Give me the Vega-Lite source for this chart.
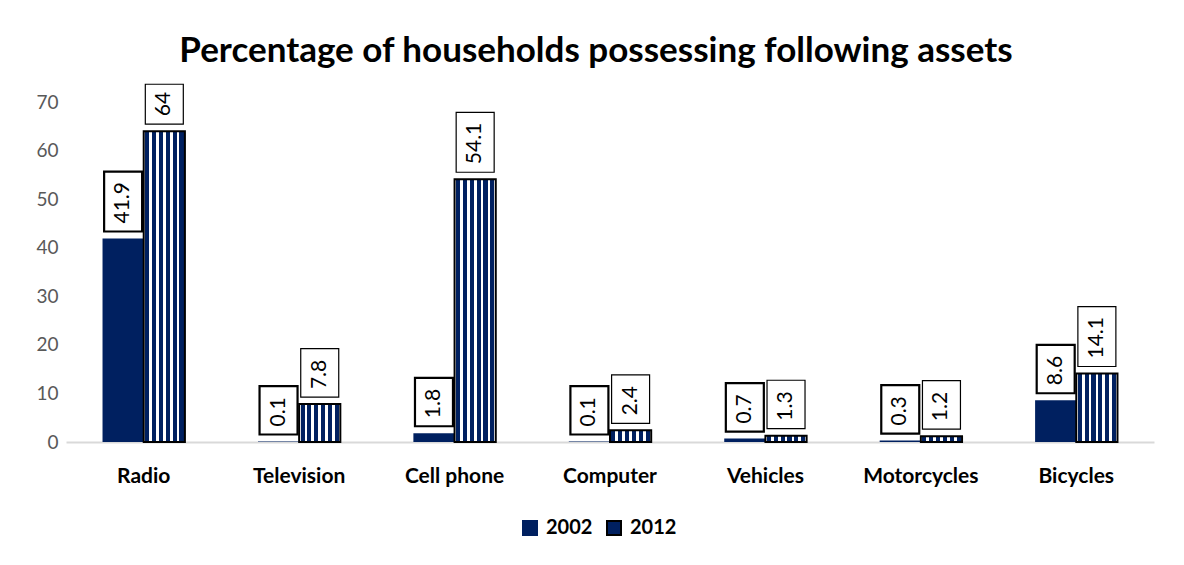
{
  "$schema": "https://vega.github.io/schema/vega-lite/v6.json",
  "width": 1088,
  "height": 340,
  "padding": {"left": 35, "top": 33, "right": 30, "bottom": 10},
  "background": "white",
  "title": {
    "text": "Percentage of households possessing following assets",
    "font": "Lato",
    "fontSize": 35,
    "fontWeight": "bold",
    "color": "#000000",
    "anchor": "middle",
    "dx": -14,
    "offset": 13
  },
  "config": {
    "view": {"stroke": null},
    "font": "Lato"
  },
  "data": {
    "values": [
      {"asset": "Radio", "year": "2002", "value": 41.9},
      {"asset": "Radio", "year": "2012", "value": 64},
      {"asset": "Television", "year": "2002", "value": 0.1},
      {"asset": "Television", "year": "2012", "value": 7.8},
      {"asset": "Cell phone", "year": "2002", "value": 1.8},
      {"asset": "Cell phone", "year": "2012", "value": 54.1},
      {"asset": "Computer", "year": "2002", "value": 0.1},
      {"asset": "Computer", "year": "2012", "value": 2.4},
      {"asset": "Vehicles", "year": "2002", "value": 0.7},
      {"asset": "Vehicles", "year": "2012", "value": 1.3},
      {"asset": "Motorcycles", "year": "2002", "value": 0.3},
      {"asset": "Motorcycles", "year": "2012", "value": 1.2},
      {"asset": "Bicycles", "year": "2002", "value": 8.6},
      {"asset": "Bicycles", "year": "2012", "value": 14.1}
    ]
  },
  "encoding": {
    "x": {
      "field": "asset",
      "type": "nominal",
      "sort": null,
      "scale": {"paddingInner": 0.47, "paddingOuter": 0.235},
      "axis": {
        "title": null,
        "labelAngle": 0,
        "labelFont": "Lato",
        "labelFontSize": 21,
        "labelFontWeight": "bold",
        "labelColor": "#000000",
        "labelPadding": 23,
        "ticks": false,
        "domainColor": "#d9d9d9",
        "domainWidth": 2,
        "grid": false
      }
    },
    "xOffset": {"field": "year", "type": "nominal", "scale": {"paddingInner": 0}},
    "y": {
      "field": "value",
      "type": "quantitative",
      "scale": {"domain": [0, 70], "nice": false},
      "axis": {
        "title": null,
        "values": [0, 10, 20, 30, 40, 50, 60, 70],
        "labelFont": "Lato",
        "labelFontSize": 19,
        "labelColor": "#595959",
        "labelPadding": 8,
        "ticks": false,
        "domain": false,
        "grid": false
      }
    }
  },
  "layer": [
    {
      "mark": {"type": "bar"},
      "encoding": {
        "fill": {
          "field": "year",
          "type": "nominal",
          "scale": {"domain": ["2002", "2012"], "range": ["#002060", "#002060"]},
          "legend": {
            "title": null,
            "orient": "none",
            "legendX": 454,
            "legendY": 416,
            "direction": "horizontal",
            "symbolType": "square",
            "symbolSize": 196,
            "labelFont": "Lato",
            "labelFontSize": 20,
            "labelFontWeight": "bold",
            "labelColor": "#000000",
            "columnPadding": 10,
            "labelOffset": 6,
            "encode": {
              "symbols": {
                "update": {
                  "fill": {"signal": "datum.value === '2012' ? {gradient: 'linear', x1: 0, y1: 0, x2: 1, y2: 0, stops: [{offset: 0, color: '#ffffff'}, {offset: 0.3, color: '#ffffff'}, {offset: 0.3, color: '#002060'}, {offset: 0.7, color: '#002060'}, {offset: 0.7, color: '#ffffff'}, {offset: 1, color: '#ffffff'}]} : '#002060'"},
                  "stroke": {"signal": "datum.value === '2012' ? '#000000' : '#002060'"},
                  "strokeWidth": {"value": 2}
                }
              }
            }
          }
        }
      }
    },
    {
      "transform": [{"filter": "datum.year === '2012'"}],
      "mark": {
        "type": "bar",
        "stroke": "#000000",
        "strokeWidth": 2,
        "fill": {"gradient": "linear", "x1": 0, "y1": 0, "x2": 1, "y2": 0, "stops": [
          {"offset": 0, "color": "#ffffff"}, {"offset": 0.0333, "color": "#ffffff"},
          {"offset": 0.0333, "color": "#002060"}, {"offset": 0.1333, "color": "#002060"},
          {"offset": 0.1333, "color": "#ffffff"}, {"offset": 0.2, "color": "#ffffff"},
          {"offset": 0.2, "color": "#002060"}, {"offset": 0.3, "color": "#002060"},
          {"offset": 0.3, "color": "#ffffff"}, {"offset": 0.3667, "color": "#ffffff"},
          {"offset": 0.3667, "color": "#002060"}, {"offset": 0.4667, "color": "#002060"},
          {"offset": 0.4667, "color": "#ffffff"}, {"offset": 0.5333, "color": "#ffffff"},
          {"offset": 0.5333, "color": "#002060"}, {"offset": 0.6333, "color": "#002060"},
          {"offset": 0.6333, "color": "#ffffff"}, {"offset": 0.7, "color": "#ffffff"},
          {"offset": 0.7, "color": "#002060"}, {"offset": 0.8, "color": "#002060"},
          {"offset": 0.8, "color": "#ffffff"}, {"offset": 0.8667, "color": "#ffffff"},
          {"offset": 0.8667, "color": "#002060"}, {"offset": 0.9667, "color": "#002060"},
          {"offset": 0.9667, "color": "#ffffff"}, {"offset": 1, "color": "#ffffff"}]}
      },
      "encoding": {}
    },
    {
      "mark": {"type": "point", "filled": true, "fill": "#ffffff", "stroke": "#000000", "opacity": 1, "size": 1444},
      "encoding": {
        "y": {"field": "value", "type": "quantitative"},
        "yOffset": {"value": -7},
        "shape": {
          "condition": [
            {"test": "length(toString(datum.value)) >= 4", "value": "M-1,0L1,0L1,-3.15L-1,-3.15Z"},
            {"test": "length(toString(datum.value)) == 3", "value": "M-1,0L1,0L1,-2.55L-1,-2.55Z"}
          ],
          "value": "M-1,0L1,0L1,-2.1L-1,-2.1Z"
        },
        "strokeWidth": {"condition": {"test": "datum.year === '2002'", "value": 2.2}, "value": 1.2}
      }
    },
    {
      "mark": {"type": "text", "angle": 270, "align": "left", "baseline": "middle", "font": "Lato", "fontSize": 21, "color": "#000000"},
      "encoding": {
        "yOffset": {"value": -15},
        "text": {"field": "value", "type": "quantitative"}
      }
    }
  ]
}
